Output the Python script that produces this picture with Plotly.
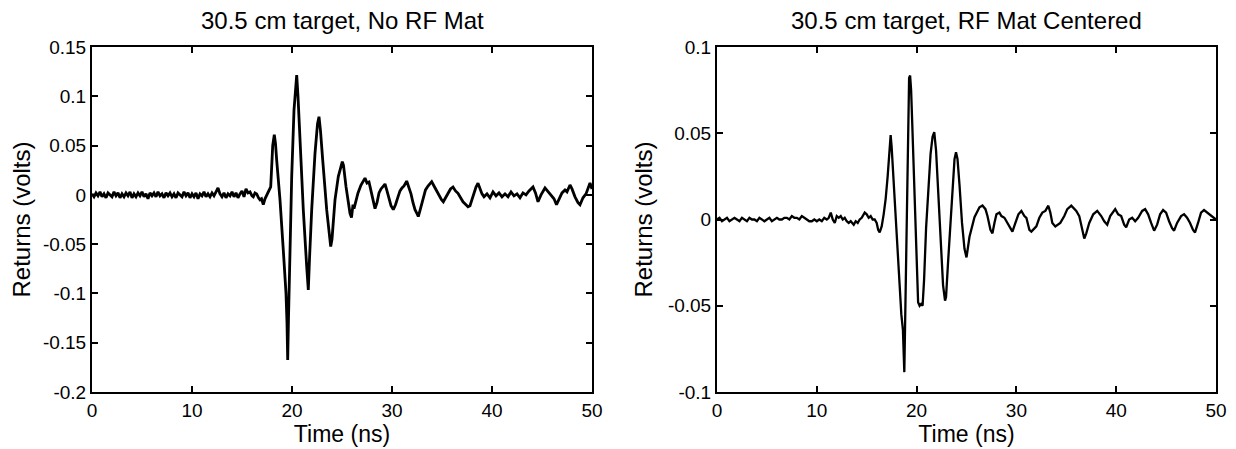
import plotly.graph_objects as go

# ---------------- data ----------------
titles = ["30.5 cm target, No RF Mat", "30.5 cm target, RF Mat Centered"]

# Left panel: baseline noise 0..15.6 ns every 0.2 ns
t_left_base = [round(0.2 * i, 2) for i in range(79)]
v_left_base = [
    0.001, -0.002, 0.002, -0.001, 0.003, -0.002, 0.001, -0.003, 0.002, 0.000,
    -0.002, 0.003, -0.001, 0.002, -0.003, 0.001, -0.002, 0.002, -0.001, 0.003,
    -0.003, 0.001, -0.002, 0.002, -0.001, 0.003, -0.002, 0.001, -0.004, 0.002,
    -0.001, 0.002, -0.002, 0.003, -0.001, 0.001, -0.003, 0.002, -0.001, 0.002,
    -0.002, 0.001, -0.003, 0.002, 0.000, -0.002, 0.003, -0.001, 0.002, -0.003,
    0.001, -0.002, 0.002, -0.004, 0.001, -0.001, 0.003, -0.002, 0.001, -0.002,
    0.002, -0.001, 0.003, 0.007, 0.001, -0.002, 0.002, -0.003, 0.001, -0.001,
    0.003, -0.002, 0.002, -0.003, 0.001, 0.004, -0.002, 0.006, 0.002,
]
t_left_pulse = [
    15.8, 16.0, 16.13, 16.3, 16.47, 16.65, 16.8, 16.95, 17.13, 17.3, 17.47, 17.6,
    17.73, 17.87, 18.0, 18.07, 18.23, 18.35, 18.47, 18.8, 19.13, 19.4, 19.5, 19.57,
    19.65, 19.73, 19.97, 20.2, 20.47, 20.6, 20.73, 21.13, 21.47, 21.63, 21.75, 21.97,
    22.3, 22.55, 22.7, 22.85, 23.07, 23.47, 23.87, 24.0, 24.3, 24.63, 25.03, 25.15,
    25.4, 25.8, 25.95, 26.1, 26.2, 26.35, 26.6, 26.9, 27.1, 27.3, 27.5, 27.7,
    27.9, 28.1, 28.3, 28.5, 28.7, 28.9, 29.1, 29.3, 29.5, 29.7, 29.9, 30.13,
    30.35, 30.6, 30.8, 31.0, 31.2, 31.47, 31.7, 31.9, 32.1, 32.3, 32.5, 32.63,
    32.85, 33.1, 33.35, 33.6, 33.8, 33.97, 34.2, 34.45, 34.7, 34.95, 35.13, 35.35,
    35.6, 35.85, 36.1, 36.35, 36.6, 36.85, 37.1, 37.4, 37.6, 37.8, 38.0, 38.2,
    38.4, 38.6, 38.8, 39.0, 39.2, 39.5, 39.8, 40.1, 40.4, 40.7, 41.0, 41.3,
    41.6, 41.9, 42.2, 42.5, 42.8, 43.1, 43.4, 43.7, 44.1, 44.35, 44.6, 44.9,
    45.3, 45.6, 45.9, 46.2, 46.45, 46.7, 47.0, 47.3, 47.5, 47.8, 48.0, 48.3,
    48.6, 48.8, 49.1, 49.4, 49.6, 49.8, 50.0,
]
v_left_pulse = [
    0.003, -0.001, -0.002, 0.002, 0.001, -0.003, -0.005, -0.004, -0.010, -0.004, 0.000, 0.003,
    0.005, 0.008, 0.035, 0.050, 0.061, 0.052, 0.035, -0.005, -0.056, -0.100, -0.130, -0.1675,
    -0.125, -0.083, 0.0185, 0.086, 0.1216, 0.100, 0.069, -0.0153, -0.0728, -0.0965, -0.065, -0.015,
    0.042, 0.072, 0.0793, 0.065, 0.0354, -0.0153, -0.0525, -0.045, -0.005, 0.0185, 0.0337, 0.030,
    0.0083, -0.0187, -0.023, -0.010, -0.014, -0.008, 0.002, 0.010, 0.014, 0.017, 0.012, 0.013,
    0.004, -0.006, -0.014, -0.008, 0.002, 0.006, 0.009, 0.011, 0.004, -0.004, -0.011, -0.015,
    -0.010, -0.002, 0.004, 0.007, 0.009, 0.014, 0.008, 0.001, -0.008, -0.015, -0.019, -0.022,
    -0.014, -0.004, 0.005, 0.009, 0.012, 0.0134, 0.009, 0.004, 0.000, -0.005, -0.007, -0.003,
    0.003, 0.006, 0.008, 0.004, 0.0016, -0.003, -0.007, -0.010, -0.012, -0.011, -0.004, 0.003,
    0.008, 0.0118, 0.006, 0.001, -0.002, 0.001, -0.003, 0.003, -0.001, 0.002, -0.002, 0.001,
    -0.002, 0.003, -0.001, 0.001, -0.003, 0.002, 0.000, 0.004, 0.008, 0.002, -0.007, 0.000,
    0.007, 0.003, -0.001, -0.004, -0.010, -0.004, 0.002, 0.005, 0.003, 0.010, 0.006, -0.002,
    -0.008, -0.010, -0.003, 0.001, 0.006, 0.012, 0.006,
]
t_left = t_left_base + t_left_pulse
v_left = v_left_base + v_left_pulse

# Right panel: baseline 0..11 ns every 0.25 ns
t_right_base = [round(0.25 * i, 2) for i in range(45)]
v_right_base = [
    0.000, 0.001, -0.001, 0.000, 0.001, -0.001, 0.000, 0.001, 0.000, -0.001,
    0.001, 0.000, -0.001, 0.001, 0.000, 0.000, -0.001, 0.001, 0.000, -0.001,
    0.000, 0.001, -0.001, 0.000, 0.001, 0.000, 0.000, 0.001, 0.001, 0.000,
    0.002, 0.001, 0.001, 0.000, 0.002, 0.001, 0.000, -0.001, -0.001, 0.000,
    -0.001, 0.000, -0.001, 0.001, 0.000,
]
t_right_pulse = [
    11.2, 11.4, 11.6, 11.8, 12.0, 12.2, 12.4, 12.6, 12.8, 13.0, 13.2, 13.4,
    13.7, 13.9, 14.1, 14.3, 14.5, 14.8, 15.0, 15.2, 15.4, 15.6, 15.8, 16.0,
    16.15, 16.3, 16.5, 16.7, 16.9, 17.1, 17.25, 17.4, 17.5, 17.65, 17.8, 18.0,
    18.15, 18.3, 18.47, 18.63, 18.72, 18.77, 18.85, 18.95, 19.05, 19.15, 19.25, 19.35,
    19.45, 19.55, 19.67, 19.85, 20.0, 20.15, 20.3, 20.45, 20.6, 20.75, 20.95, 21.17,
    21.4, 21.6, 21.77, 21.95, 22.15, 22.4, 22.65, 22.85, 22.95, 23.15, 23.4, 23.6,
    23.8, 23.95, 24.1, 24.3, 24.55, 24.8, 25.0, 25.3, 25.8, 26.3, 26.6, 26.9,
    27.1, 27.4, 27.6, 27.8, 28.0, 28.3, 28.5, 28.8, 29.0, 29.3, 29.6, 29.9,
    30.2, 30.5, 30.8, 31.0, 31.3, 31.5, 31.8, 32.0, 32.3, 32.6, 32.9, 33.2,
    33.4, 33.6, 33.9, 34.1, 34.4, 34.8, 35.1, 35.5, 35.8, 36.0, 36.3, 36.6,
    36.8, 37.0, 37.3, 37.7, 38.1, 38.5, 38.8, 39.1, 39.4, 39.9, 40.2, 40.5,
    40.8, 41.0, 41.3, 41.6, 41.9, 42.2, 42.6, 42.9, 43.2, 43.5, 43.8, 44.1,
    44.4, 44.7, 45.0, 45.3, 45.6, 45.8, 46.1, 46.5, 46.8, 47.1, 47.4, 47.7,
    47.9, 48.2, 48.5, 48.8, 49.1, 49.4, 49.7, 50.0,
]
v_right_pulse = [
    0.001, 0.004, 0.000, -0.002, 0.002, 0.001, 0.002, 0.000, 0.001, -0.001, -0.002, -0.001,
    -0.003, -0.001, -0.002, 0.000, 0.001, 0.004, 0.003, 0.001, 0.002, 0.000, 0.000, -0.002,
    -0.006, -0.0075, -0.004, 0.003, 0.012, 0.025, 0.038, 0.049, 0.042, 0.028, 0.015, -0.005,
    -0.020, -0.038, -0.055, -0.064, -0.080, -0.0885, -0.060, -0.020, 0.020, 0.060, 0.082, 0.0835,
    0.075, 0.058, 0.038, 0.005, -0.020, -0.048, -0.050, -0.049, -0.050, -0.035, -0.005, 0.018,
    0.038, 0.048, 0.0506, 0.040, 0.015, -0.015, -0.038, -0.047, -0.045, -0.025, 0.000, 0.022,
    0.035, 0.039, 0.035, 0.020, -0.002, -0.017, -0.022, -0.010, 0.0013, 0.0071, 0.0081, 0.006,
    0.002, -0.006, -0.008, -0.002, 0.003, 0.004, 0.002, 0.001, -0.001, -0.004, -0.007, -0.002,
    0.003, 0.005, 0.002, 0.001, -0.006, -0.007, -0.005, -0.004, 0.001, 0.004, 0.005, 0.008,
    0.004, -0.002, -0.004, -0.003, -0.002, 0.002, 0.006, 0.008, 0.006, 0.005, 0.002, -0.006,
    -0.011, -0.008, -0.002, 0.003, 0.005, 0.002, -0.001, -0.003, 0.002, 0.006, 0.003, 0.002,
    -0.003, -0.0045, 0.000, 0.001, -0.001, 0.001, 0.005, 0.006, 0.003, -0.002, -0.0065, -0.003,
    0.003, 0.0055, 0.004, -0.001, -0.005, -0.0065, -0.002, 0.002, 0.003, 0.001, -0.002, -0.006,
    -0.0075, -0.002, 0.004, 0.0055, 0.004, 0.003, 0.001, 0.000,
]
t_right = t_right_base + t_right_pulse
v_right = v_right_base + v_right_pulse

x_ticks = [0, 10, 20, 30, 40, 50]
y_ticks_left = [-0.2, -0.15, -0.1, -0.05, 0, 0.05, 0.1, 0.15]
y_text_left = ["-0.2", "-0.15", "-0.1", "-0.05", "0", "0.05", "0.1", "0.15"]
y_ticks_right = [-0.1, -0.05, 0, 0.05, 0.1]
y_text_right = ["-0.1", "-0.05", "0", "0.05", "0.1"]
x_label = "Time (ns)"
y_label = "Returns (volts)"

# ---------------- figure ----------------
# page body has an 8px margin: figure is drawn 8px down/right of the window corner
OFF = 8
W, H = 1236 - OFF, 449 - OFF
FONT = "Liberation Sans, Arial, sans-serif"

fig = go.Figure()
fig.add_trace(go.Scatter(x=t_left, y=v_left, mode="lines",
                         line=dict(color="black", width=2.8),
                         xaxis="x", yaxis="y", showlegend=False))
fig.add_trace(go.Scatter(x=t_right, y=v_right, mode="lines",
                         line=dict(color="black", width=2.3),
                         xaxis="x2", yaxis="y2", showlegend=False))

def xdom(a, b):
    return [(a - OFF) / W, (b - OFF) / W]

def ypos(py):
    return (H - (py - OFF)) / H

ydom = [ypos(392), ypos(47)]

axis_common = dict(
    showline=True, mirror="ticks", linecolor="black", linewidth=2,
    ticks="inside", ticklen=6, tickwidth=1.5, tickcolor="black",
    showgrid=False, zeroline=False, automargin=False,
    tickfont=dict(family=FONT, size=19, color="black"),
)

fig.update_layout(
    width=W, height=H,
    margin=dict(l=0, r=0, t=0, b=0),
    paper_bgcolor="white", plot_bgcolor="white",
    font=dict(family=FONT, color="black"),
    xaxis=dict(domain=xdom(92, 592), range=[0, 50], tickvals=x_ticks,
               title=dict(text=x_label, font=dict(size=23), standoff=0),
               anchor="y", **axis_common),
    yaxis=dict(domain=ydom, range=[-0.2, 0.15], tickvals=y_ticks_left,
               ticktext=y_text_left,
               title=dict(text=y_label, font=dict(size=24), standoff=8),
               anchor="x", **axis_common),
    xaxis2=dict(domain=xdom(717, 1216), range=[0, 50], tickvals=x_ticks,
                title=dict(text=x_label, font=dict(size=23), standoff=0),
                anchor="y2", **axis_common),
    yaxis2=dict(domain=ydom, range=[-0.1, 0.1], tickvals=y_ticks_right,
                ticktext=y_text_right,
                title=dict(text=y_label, font=dict(size=24), standoff=8),
                anchor="x2", **axis_common),
    annotations=[
        dict(text=titles[0], x=((92 + 592) / 2 - OFF) / W, y=ypos(20),
             xref="paper", yref="paper", xanchor="center", yanchor="middle",
             showarrow=False, font=dict(size=24, family=FONT, color="black")),
        dict(text=titles[1], x=((717 + 1216) / 2 - OFF) / W, y=ypos(20),
             xref="paper", yref="paper", xanchor="center", yanchor="middle",
             showarrow=False, font=dict(size=24, family=FONT, color="black")),
    ],
)

fig.write_html("out.html")
